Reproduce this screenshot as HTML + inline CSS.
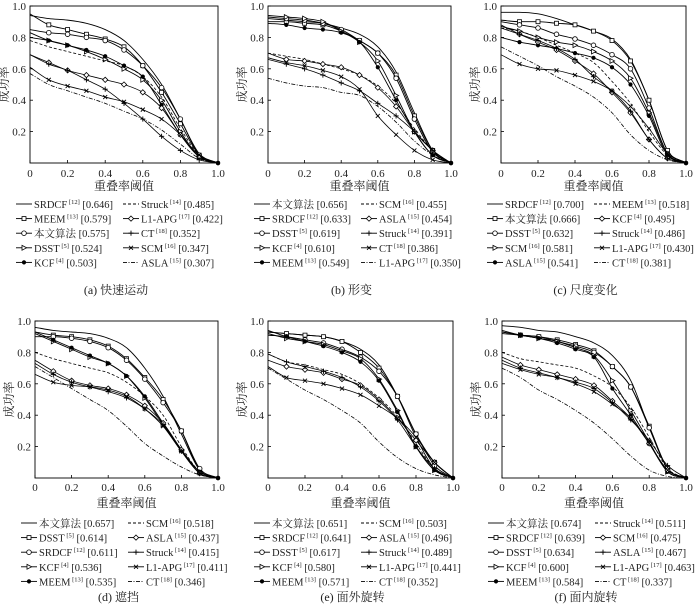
<!DOCTYPE html>
<html><head><meta charset="utf-8"><style>
html,body{margin:0;padding:0;background:#fff;}
svg{display:block;font-family:"Liberation Serif","Noto Serif CJK SC",serif;}
</style></head><body>
<svg id="fig" width="700" height="605" viewBox="0 0 700 605" xmlns="http://www.w3.org/2000/svg" font-family="Liberation Serif, Noto Serif CJK SC, serif"></svg>
<script>
const thresholds = [0,0.1,0.2,0.3,0.4,0.5,0.6,0.7,0.8,0.9,1.0];
const yTicks = [0.2,0.4,0.6,0.8,1.0];
const xTickLabels = ["0","0.2","0.4","0.6","0.8","1.0"];

const namesA = ["SRDCF|12","MEEM|13","本文算法|","DSST|5","KCF|4","Struck|14","L1-APG|17","CT|18","SCM|16","ASLA|15"];
const scoresA = ["0.646","0.579","0.575","0.524","0.503","0.485","0.422","0.352","0.347","0.307"];
const valsA = [
[0.94,0.92,0.91,0.89,0.85,0.78,0.66,0.50,0.28,0.06,0],
[0.95,0.88,0.85,0.82,0.79,0.74,0.62,0.45,0.25,0.05,0],
[0.85,0.83,0.82,0.80,0.78,0.72,0.62,0.48,0.28,0.05,0],
[0.80,0.78,0.75,0.71,0.66,0.60,0.53,0.40,0.20,0.04,0],
[0.83,0.78,0.75,0.72,0.68,0.62,0.55,0.37,0.18,0.04,0],
[0.78,0.74,0.71,0.68,0.65,0.62,0.55,0.42,0.22,0.05,0],
[0.69,0.64,0.59,0.56,0.53,0.50,0.45,0.35,0.18,0.04,0],
[0.69,0.63,0.59,0.53,0.47,0.38,0.28,0.17,0.08,0.02,0],
[0.61,0.53,0.49,0.46,0.42,0.39,0.34,0.28,0.18,0.05,0],
[0.57,0.50,0.46,0.42,0.38,0.33,0.28,0.21,0.12,0.03,0]];

const namesB = ["本文算法|","SRDCF|12","DSST|5","KCF|4","MEEM|13","SCM|16","ASLA|15","Struck|14","CT|18","L1-APG|17"];
const scoresB = ["0.656","0.633","0.619","0.610","0.549","0.455","0.454","0.391","0.386","0.350"];
const valsB = [
[0.92,0.91,0.90,0.89,0.86,0.82,0.74,0.58,0.32,0.08,0],
[0.90,0.90,0.89,0.88,0.84,0.78,0.70,0.56,0.30,0.08,0],
[0.93,0.92,0.91,0.89,0.85,0.78,0.70,0.54,0.28,0.07,0],
[0.94,0.93,0.92,0.90,0.84,0.77,0.65,0.43,0.20,0.05,0],
[0.89,0.88,0.86,0.85,0.83,0.77,0.61,0.40,0.20,0.05,0],
[0.70,0.68,0.66,0.63,0.60,0.56,0.49,0.38,0.22,0.08,0],
[0.70,0.66,0.65,0.63,0.61,0.56,0.48,0.36,0.20,0.08,0],
[0.66,0.63,0.60,0.56,0.51,0.46,0.38,0.30,0.20,0.08,0],
[0.67,0.64,0.62,0.59,0.55,0.47,0.30,0.18,0.08,0.02,0],
[0.54,0.51,0.49,0.48,0.45,0.43,0.36,0.26,0.14,0.05,0]];

const namesC = ["SRDCF|12","本文算法|","DSST|5","SCM|16","ASLA|15","MEEM|13","KCF|4","Struck|14","L1-APG|17","CT|18"];
const scoresC = ["0.700","0.666","0.632","0.581","0.541","0.518","0.495","0.486","0.430","0.381"];
const valsC = [
[0.96,0.96,0.95,0.92,0.88,0.84,0.79,0.66,0.40,0.08,0],
[0.91,0.90,0.90,0.89,0.88,0.84,0.78,0.65,0.40,0.08,0],
[0.90,0.88,0.86,0.82,0.79,0.75,0.69,0.60,0.35,0.06,0],
[0.87,0.84,0.80,0.77,0.75,0.71,0.65,0.54,0.32,0.06,0],
[0.80,0.77,0.75,0.73,0.70,0.67,0.61,0.50,0.30,0.05,0],
[0.86,0.84,0.80,0.75,0.70,0.64,0.52,0.38,0.20,0.05,0],
[0.88,0.82,0.77,0.72,0.65,0.57,0.45,0.32,0.15,0.03,0],
[0.86,0.82,0.78,0.73,0.66,0.55,0.46,0.33,0.15,0.03,0],
[0.69,0.63,0.60,0.59,0.56,0.52,0.46,0.36,0.22,0.06,0],
[0.74,0.68,0.62,0.55,0.49,0.42,0.32,0.18,0.08,0.02,0]];

const namesD = ["本文算法|","DSST|5","SRDCF|12","KCF|4","MEEM|13","SCM|16","ASLA|15","Struck|14","L1-APG|17","CT|18"];
const scoresD = ["0.657","0.614","0.611","0.536","0.535","0.518","0.437","0.415","0.411","0.346"];
const valsD = [
[0.96,0.94,0.93,0.92,0.89,0.83,0.70,0.52,0.28,0.05,0],
[0.93,0.91,0.90,0.88,0.84,0.76,0.64,0.50,0.30,0.05,0],
[0.90,0.90,0.89,0.87,0.83,0.75,0.63,0.48,0.30,0.06,0],
[0.92,0.87,0.82,0.77,0.73,0.65,0.51,0.34,0.18,0.04,0],
[0.93,0.88,0.83,0.78,0.73,0.65,0.52,0.35,0.18,0.04,0],
[0.80,0.76,0.73,0.70,0.67,0.61,0.52,0.40,0.20,0.04,0],
[0.75,0.68,0.62,0.59,0.57,0.53,0.46,0.35,0.18,0.03,0],
[0.73,0.66,0.61,0.58,0.55,0.51,0.44,0.34,0.17,0.03,0],
[0.66,0.61,0.59,0.58,0.56,0.52,0.44,0.33,0.17,0.03,0],
[0.71,0.64,0.57,0.50,0.43,0.33,0.22,0.14,0.07,0.02,0]];

const namesE = ["本文算法|","SRDCF|12","DSST|5","KCF|4","MEEM|13","SCM|16","ASLA|15","Struck|14","L1-APG|17","CT|18"];
const scoresE = ["0.651","0.641","0.617","0.580","0.571","0.503","0.496","0.489","0.441","0.352"];
const valsE = [
[0.93,0.92,0.91,0.90,0.87,0.82,0.72,0.52,0.26,0.06,0],
[0.93,0.92,0.91,0.90,0.87,0.80,0.70,0.52,0.28,0.10,0],
[0.91,0.90,0.88,0.86,0.82,0.77,0.68,0.52,0.28,0.08,0],
[0.92,0.89,0.87,0.85,0.81,0.76,0.63,0.43,0.20,0.05,0],
[0.94,0.90,0.87,0.84,0.80,0.74,0.62,0.42,0.20,0.05,0],
[0.79,0.74,0.72,0.69,0.66,0.60,0.51,0.39,0.22,0.06,0],
[0.75,0.71,0.69,0.67,0.63,0.59,0.50,0.38,0.24,0.10,0],
[0.79,0.74,0.71,0.68,0.64,0.58,0.49,0.37,0.20,0.06,0],
[0.71,0.64,0.62,0.60,0.57,0.53,0.46,0.38,0.26,0.10,0],
[0.70,0.63,0.56,0.50,0.43,0.35,0.23,0.13,0.06,0.02,0]];

const namesF = ["本文算法|","SRDCF|12","DSST|5","KCF|4","MEEM|13","Struck|14","SCM|16","ASLA|15","L1-APG|17","CT|18"];
const scoresF = ["0.674","0.639","0.634","0.600","0.584","0.511","0.475","0.467","0.463","0.337"];
const valsF = [
[0.97,0.96,0.94,0.93,0.90,0.86,0.78,0.62,0.32,0.06,0],
[0.92,0.91,0.90,0.88,0.85,0.81,0.71,0.58,0.33,0.06,0],
[0.93,0.91,0.90,0.87,0.84,0.80,0.71,0.58,0.32,0.06,0],
[0.93,0.91,0.89,0.87,0.83,0.78,0.62,0.43,0.23,0.04,0],
[0.94,0.91,0.89,0.86,0.82,0.77,0.57,0.40,0.22,0.04,0],
[0.80,0.76,0.74,0.72,0.70,0.65,0.58,0.45,0.26,0.06,0],
[0.77,0.72,0.69,0.66,0.63,0.59,0.49,0.38,0.22,0.05,0],
[0.75,0.70,0.67,0.64,0.61,0.57,0.48,0.37,0.24,0.08,0],
[0.73,0.69,0.66,0.64,0.60,0.55,0.47,0.38,0.22,0.05,0],
[0.70,0.64,0.56,0.50,0.43,0.35,0.25,0.14,0.05,0.01,0]];

const panels = [
 {id:"a",cap:"(a) 快速运动",L:30,R:218,T:6,B:163,tickY:177,xlY:190,legY:208,capY:294,names:namesA,scores:scoresA,vals:valsA},
 {id:"b",cap:"(b) 形变",L:268,R:451,T:6,B:163,tickY:177,xlY:190,legY:208,capY:294,names:namesB,scores:scoresB,vals:valsB},
 {id:"c",cap:"(c) 尺度变化",L:501,R:686,T:6,B:163,tickY:177,xlY:190,legY:208,capY:294,names:namesC,scores:scoresC,vals:valsC},
 {id:"d",cap:"(d) 遮挡",L:35,R:218,T:321,B:478,tickY:491,xlY:507,legY:527,capY:601,names:namesD,scores:scoresD,vals:valsD},
 {id:"e",cap:"(e) 面外旋转",L:268,R:453,T:321,B:478,tickY:491,xlY:507,legY:527,capY:601,names:namesE,scores:scoresE,vals:valsE},
 {id:"f",cap:"(f) 面内旋转",L:502,R:686,T:321,B:478,tickY:491,xlY:507,legY:527,capY:601,names:namesF,scores:scoresF,vals:valsF}
];
const styles = ["solid","square","circle","triangle","dot","dashed","diamond","plus","cross","dashdot"];

const NS="http://www.w3.org/2000/svg";
const svg=document.getElementById("fig");
function mk(tag,attrs,parent){const e=document.createElementNS(NS,tag);for(const k in attrs)e.setAttribute(k,attrs[k]);(parent||svg).appendChild(e);return e;}

function dashFor(s){return s==="dashed"?"3,2":(s==="dashdot"?"4,1.5,1,1.5":null);}
function marker(g,s,x,y){
  const st={stroke:"#000","stroke-width":0.8,fill:"#fff"};
  let m=null;
  if(s==="square")m=mk("rect",Object.assign({x:x-2,y:y-2,width:4,height:4},st),g);
  else if(s==="circle")m=mk("circle",Object.assign({cx:x,cy:y,r:2.3},st),g);
  else if(s==="triangle")m=mk("polygon",Object.assign({points:`${x-2},${y-2.4} ${x+2.6},${y} ${x-2},${y+2.4}`},st),g);
  else if(s==="dot")m=mk("circle",{cx:x,cy:y,r:2.1,fill:"#000"},g);
  else if(s==="diamond")m=mk("polygon",Object.assign({points:`${x},${y-2.6} ${x+2.6},${y} ${x},${y+2.6} ${x-2.6},${y}`},st),g);
  else if(s==="plus")m=mk("path",{d:`M${x-2.6},${y}H${x+2.6}M${x},${y-2.6}V${y+2.6}`,stroke:"#000","stroke-width":0.9,fill:"none"},g);
  else if(s==="cross")m=mk("path",{d:`M${x-2},${y-2}L${x+2},${y+2}M${x-2},${y+2}L${x+2},${y-2}`,stroke:"#000","stroke-width":0.9,fill:"none"},g);
  if(m){}
}
function monoPath(px,py){
  const n=px.length,d=[],m=[];
  for(let i=0;i<n-1;i++)d.push((py[i+1]-py[i])/(px[i+1]-px[i]));
  m[0]=d[0];m[n-1]=d[n-2];
  for(let i=1;i<n-1;i++)m[i]=(d[i-1]*d[i]<=0)?0:(d[i-1]+d[i])/2;
  for(let i=0;i<n-1;i++){if(d[i]===0){m[i]=0;m[i+1]=0;continue;}const a=m[i]/d[i],b=m[i+1]/d[i],h=a*a+b*b;if(h>9){const t=3/Math.sqrt(h);m[i]=t*a*d[i];m[i+1]=t*b*d[i];}}
  let p=`M${px[0].toFixed(2)},${py[0].toFixed(2)}`;
  for(let i=0;i<n-1;i++){const h=(px[i+1]-px[i])/3;p+=`C${(px[i]+h).toFixed(2)},${(py[i]+m[i]*h).toFixed(2)} ${(px[i+1]-h).toFixed(2)},${(py[i+1]-m[i+1]*h).toFixed(2)} ${px[i+1].toFixed(2)},${py[i+1].toFixed(2)}`;}
  return p;
}

panels.forEach(P=>{
  const g=mk("g",{});
  
  
  const xs=v=>P.L+v*(P.R-P.L), ys=v=>P.B-v*(P.B-P.T);
  const fr=mk("rect",{x:P.L,y:P.T,width:P.R-P.L,height:P.B-P.T,fill:"none",stroke:"#000","stroke-width":0.9},g);
  
  yTicks.forEach(t=>{
    const tk=mk("line",{x1:P.L,x2:P.L+3,y1:ys(t),y2:ys(t),stroke:"#000","stroke-width":0.8},g);
    
    const lb=mk("text",{x:P.L-4,y:ys(t)+4,"font-size":11,"text-anchor":"end",fill:"#222"},g);
    lb.textContent=t.toFixed(1);
    
  });
  xTickLabels.forEach((t,i)=>{
    const v=i*0.2;
    const tk=mk("line",{x1:xs(v),x2:xs(v),y1:P.B,y2:P.B-3,stroke:"#000","stroke-width":0.8},g);
    
    const lb=mk("text",{x:xs(v),y:P.tickY,"font-size":11,"text-anchor":"middle",fill:"#222"},g);
    lb.textContent=t;
    
  });
  const xl=mk("text",{x:(P.L+P.R)/2,y:P.xlY,"font-size":12,"text-anchor":"middle",fill:"#222"},g);
  xl.textContent="重叠率阈值";
  
  const ylx=P.L-22, yly=(P.T+P.B)/2;
  const yl=mk("text",{x:ylx,y:yly,"font-size":12,"text-anchor":"middle",fill:"#222",transform:`rotate(-90 ${ylx} ${yly})`},g);
  yl.textContent="成功率";
  
  P.vals.forEach((vals,k)=>{
    const s=styles[k];
    const sg=mk("g",{},g);
    
    
    const px=thresholds.map(xs), py=vals.map(ys);
    const attrs={d:monoPath(px,py),fill:"none",stroke:"#000","stroke-width":k<5?0.9:0.8};
    const da=dashFor(s); if(da)attrs["stroke-dasharray"]=da;
    const ln=mk("path",attrs,sg);
    
    thresholds.forEach((t,i)=>{if(i>0&&i<thresholds.length-1)marker(sg,s,px[i],py[i]);});
    marker(sg,"dot",px[px.length-1],py[py.length-1]);
  });
  const lg=mk("g",{},g);
  
  const rowH=14.6;
  P.names.forEach((nm,k)=>{
    const col=k<5?0:1, row=k%5;
    const lx=col===0?P.L-14:P.L+93, y=P.legY+row*rowH;
    const s=styles[k];
    const eg=mk("g",{},lg);
    
    const la={x1:lx,x2:lx+16,y1:y-4,y2:y-4,stroke:"#000","stroke-width":0.9};
    const da=dashFor(s); if(da)la["stroke-dasharray"]=da;
    mk("line",la,eg);
    marker(eg,s,lx+8,y-4);
    const [name,ref]=nm.split("|");
    const tx=mk("text",{x:lx+18,y:y,"font-size":10.5,fill:"#222"},eg);
    
    const t1=mk("tspan",{},tx); t1.textContent=name;
    if(ref){const t2=mk("tspan",{"font-size":6.5,dy:-4},tx);t2.textContent=" ["+ref+"]";const t3=mk("tspan",{dy:4},tx);t3.textContent=" ["+P.scores[k]+"]";}
    else{const t3=mk("tspan",{},tx);t3.textContent=" ["+P.scores[k]+"]";}
  });
  const cp=mk("text",{x:(P.L+P.R)/2-8,y:P.capY,"font-size":12,"text-anchor":"middle",fill:"#222"},g);
  cp.textContent=P.cap;
  
});
</script>
</body></html>
